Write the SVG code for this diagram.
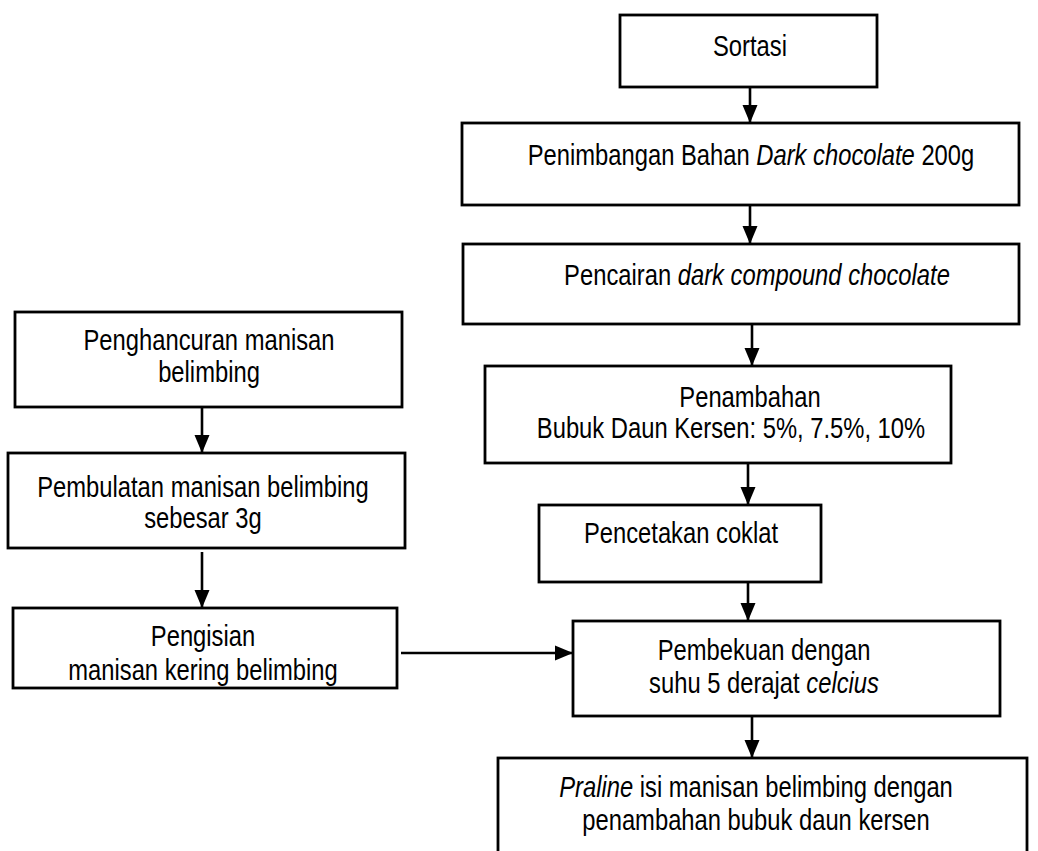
<svg xmlns="http://www.w3.org/2000/svg" width="1038" height="851" viewBox="0 0 1038 851">
<defs>
<style>
.box{fill:#fff;stroke:#000;stroke-width:2.8}
.t{font-family:"Liberation Sans Narrow","Arial Narrow","Liberation Sans",Arial,sans-serif;font-size:29px;fill:#000;text-anchor:middle}
.c{stroke:#000;stroke-width:2.6;fill:none;marker-end:url(#ah)}
</style>
<marker id="ah" markerUnits="userSpaceOnUse" markerWidth="18" markerHeight="18" viewBox="0 0 18 16" refX="18" refY="8" orient="auto">
<path d="M0,0.5 L18,8 L0,15.5 Z" fill="#000"/>
</marker>
</defs>
<rect width="1038" height="851" fill="#fff"/>
<g id="n-sortasi"><rect class="box" x="620" y="15" width="257" height="72"/><text class="t" transform="translate(750,56) scale(0.82,1)">Sortasi</text></g>
<g id="n-penimbangan"><rect class="box" x="462" y="123" width="557" height="82"/><text class="t" transform="translate(751,165) scale(0.82,1)">Penimbangan Bahan <tspan font-style="italic">Dark chocolate</tspan> 200g</text></g>
<g id="n-pencairan"><rect class="box" x="463" y="244" width="556" height="80"/><text class="t" transform="translate(757,285) scale(0.82,1)">Pencairan <tspan font-style="italic">dark compound chocolate</tspan></text></g>
<g id="n-penambahan"><rect class="box" x="485" y="366" width="466" height="97"/><text class="t" transform="translate(750,407) scale(0.82,1)">Penambahan</text><text class="t" transform="translate(731,438) scale(0.82,1)">Bubuk Daun Kersen: 5%, 7.5%, 10%</text></g>
<g id="n-pencetakan"><rect class="box" x="539" y="505" width="282" height="77"/><text class="t" transform="translate(681,543) scale(0.82,1)">Pencetakan coklat</text></g>
<g id="n-pembekuan"><rect class="box" x="573" y="621" width="427" height="95"/><text class="t" transform="translate(764,660) scale(0.82,1)">Pembekuan dengan</text><text class="t" transform="translate(764,693) scale(0.82,1)">suhu 5 derajat <tspan font-style="italic">celcius</tspan></text></g>
<g id="n-praline"><rect class="box" x="498" y="758" width="529" height="110"/><text class="t" transform="translate(756,797) scale(0.82,1)"><tspan font-style="italic">Praline</tspan> isi manisan belimbing dengan</text><text class="t" transform="translate(756,830) scale(0.82,1)">penambahan bubuk daun kersen</text></g>
<g id="n-penghancuran"><rect class="box" x="15" y="312" width="387" height="95"/><text class="t" transform="translate(209,350) scale(0.82,1)">Penghancuran manisan</text><text class="t" transform="translate(209,382) scale(0.82,1)">belimbing</text></g>
<g id="n-pembulatan"><rect class="box" x="8" y="453" width="397" height="95"/><text class="t" transform="translate(203,497) scale(0.82,1)">Pembulatan manisan belimbing</text><text class="t" transform="translate(203,528) scale(0.82,1)">sebesar 3g</text></g>
<g id="n-pengisian"><rect class="box" x="13" y="608" width="384" height="80"/><text class="t" transform="translate(203,646) scale(0.82,1)">Pengisian</text><text class="t" transform="translate(203,680) scale(0.82,1)">manisan kering belimbing</text></g>
<g id="connectors">
<line class="c" x1="750" y1="87" x2="750" y2="123"/>
<line class="c" x1="750" y1="205" x2="750" y2="244"/>
<line class="c" x1="752" y1="324" x2="752" y2="366"/>
<line class="c" x1="748" y1="463" x2="748" y2="505"/>
<line class="c" x1="748" y1="582" x2="748" y2="621"/>
<line class="c" x1="752" y1="716" x2="752" y2="758"/>
<line class="c" x1="202" y1="407" x2="202" y2="453"/>
<line class="c" x1="202" y1="552" x2="202" y2="608"/>
<line class="c" x1="401" y1="653" x2="573" y2="653"/>
</g>
</svg>
